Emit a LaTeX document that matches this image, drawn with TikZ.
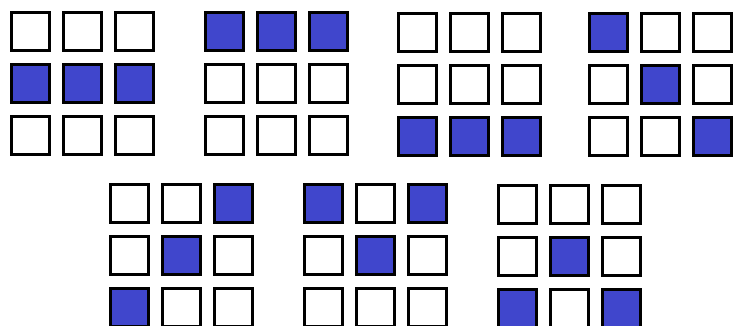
\documentclass[tikz,border=0pt]{standalone}
\begin{document}
\begin{tikzpicture}[x=1pt,y=-1pt,
  cell/.style={draw=black,line width=3pt,minimum size=38pt,inner sep=0pt,outer sep=0pt,fill=white},
  on/.style={fill=cellblue}]
\definecolor{cellblue}{RGB}{64,70,204}
\useasboundingbox (0,0) rectangle (733,325);
\fill[white] (0,0) rectangle (733,325);
% grid: name/left/top-center/filled cells
\foreach \g/\lx/\ty/\filled in {
  a/10/31/{4,5,6},
  b/204/31/{1,2,3},
  c/397/32/{7,8,9},
  d/588/32/{1,5,9},
  e/109/203/{3,5,7},
  f/303/203/{1,3,5},
  h/497/204/{5,7,9}}{
  \foreach \k in {1,...,9}{
    \pgfmathtruncatemacro{\r}{int((\k-1)/3)}
    \pgfmathtruncatemacro{\c}{mod(\k-1,3)}
    \def\st{}
    \foreach \f in \filled {\ifnum\f=\k\relax\xdef\st{on}\fi}
    \node[cell,\st] (\g\k) at ({\lx+20.5+52*\c},{\ty+52*\r}) {};
    \gdef\st{}
  }
}
\end{tikzpicture}
\end{document}
